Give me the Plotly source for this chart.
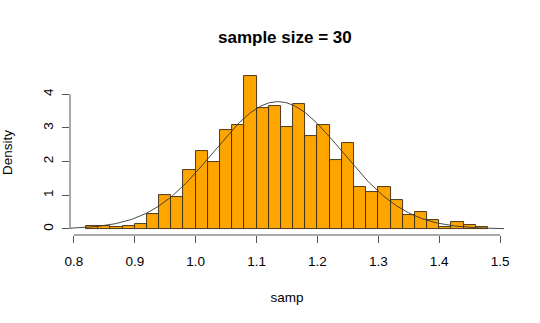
import numpy as np
import plotly.graph_objects as go

# histogram bins (left edges) and densities
bin_left = [0.82, 0.84, 0.86, 0.88, 0.90, 0.92, 0.94, 0.96, 0.98, 1.00, 1.02,
            1.04, 1.06, 1.08, 1.10, 1.12, 1.14, 1.16, 1.18, 1.20, 1.22, 1.24,
            1.26, 1.28, 1.30, 1.32, 1.34, 1.36, 1.38, 1.40, 1.42, 1.44, 1.46]
density = [0.10, 0.10, 0.06, 0.10, 0.15, 0.45, 1.00, 0.95, 1.76, 2.30, 2.00,
           2.95, 3.09, 4.54, 3.59, 3.64, 3.04, 3.70, 2.75, 3.09, 2.05, 2.55,
           1.25, 1.10, 1.24, 0.85, 0.40, 0.50, 0.26, 0.06, 0.21, 0.11, 0.05]
bin_width = 0.02

# normal curve parameters
mu = 1.135
sigma = 0.1055

x_ticks = [0.8, 0.9, 1.0, 1.1, 1.2, 1.3, 1.4, 1.5]
y_ticks = [0, 1, 2, 3, 4]

xmin, xmax = bin_left[0], bin_left[-1] + bin_width
xpad = 0.04 * (xmax - xmin)
xr = [xmin - xpad, xmax + xpad]
ymax = max(density)
yr = [-0.04 * ymax, ymax * 1.04]

centers = [b + bin_width / 2 for b in bin_left]

fig = go.Figure()
fig.add_trace(go.Bar(x=centers, y=density, width=bin_width,
                     marker=dict(color="#FFA500", line=dict(color="#3a2a10", width=0.9)),
                     hoverinfo="skip"))
cx = np.linspace(xr[0], xr[1], 301)
cy = np.exp(-0.5 * ((cx - mu) / sigma) ** 2) / (sigma * np.sqrt(2 * np.pi))
fig.add_trace(go.Scatter(x=cx, y=cy, mode="lines",
                         line=dict(color="#333333", width=0.9), hoverinfo="skip"))

axis_col = "#555555"
fig.update_layout(
    width=540, height=323,
    margin=dict(l=70, r=36, t=70, b=88, autoexpand=False),
    paper_bgcolor="white", plot_bgcolor="white",
    showlegend=False, bargap=0,
    font=dict(family="Liberation Sans, Arial, sans-serif", size=13.5, color="black"),
    title=dict(text="<b>sample size = 30</b>", x=0.5275, xanchor="center",
               y=1 - 37 / 323, yanchor="middle",
               font=dict(size=17, color="black")),
    xaxis=dict(range=xr, tickvals=x_ticks, ticktext=[f"{v:.1f}" for v in x_ticks],
               ticks="outside", ticklen=7, tickcolor=axis_col, tickwidth=1,
               ticklabelstandoff=7, automargin=False,
               showgrid=False, zeroline=False, showline=False,
               title=dict(text="samp", standoff=24, font=dict(size=13.5))),
    yaxis=dict(range=yr, tickvals=y_ticks, ticks="outside", ticklen=7,
               tickcolor=axis_col, tickwidth=1, tickangle=-90,
               ticklabelstandoff=4, automargin=False,
               showgrid=False, zeroline=False, showline=False,
               title=dict(text="Density", standoff=24, font=dict(size=13.5))),
)
fig.add_shape(type="line", xref="x", yref="paper", x0=x_ticks[0], x1=x_ticks[-1],
              y0=0, y1=0, line=dict(color=axis_col, width=1))
fig.add_shape(type="line", xref="paper", yref="y", x0=0, x1=0,
              y0=y_ticks[0], y1=y_ticks[-1], line=dict(color=axis_col, width=1))

fig.write_html("out.html")
